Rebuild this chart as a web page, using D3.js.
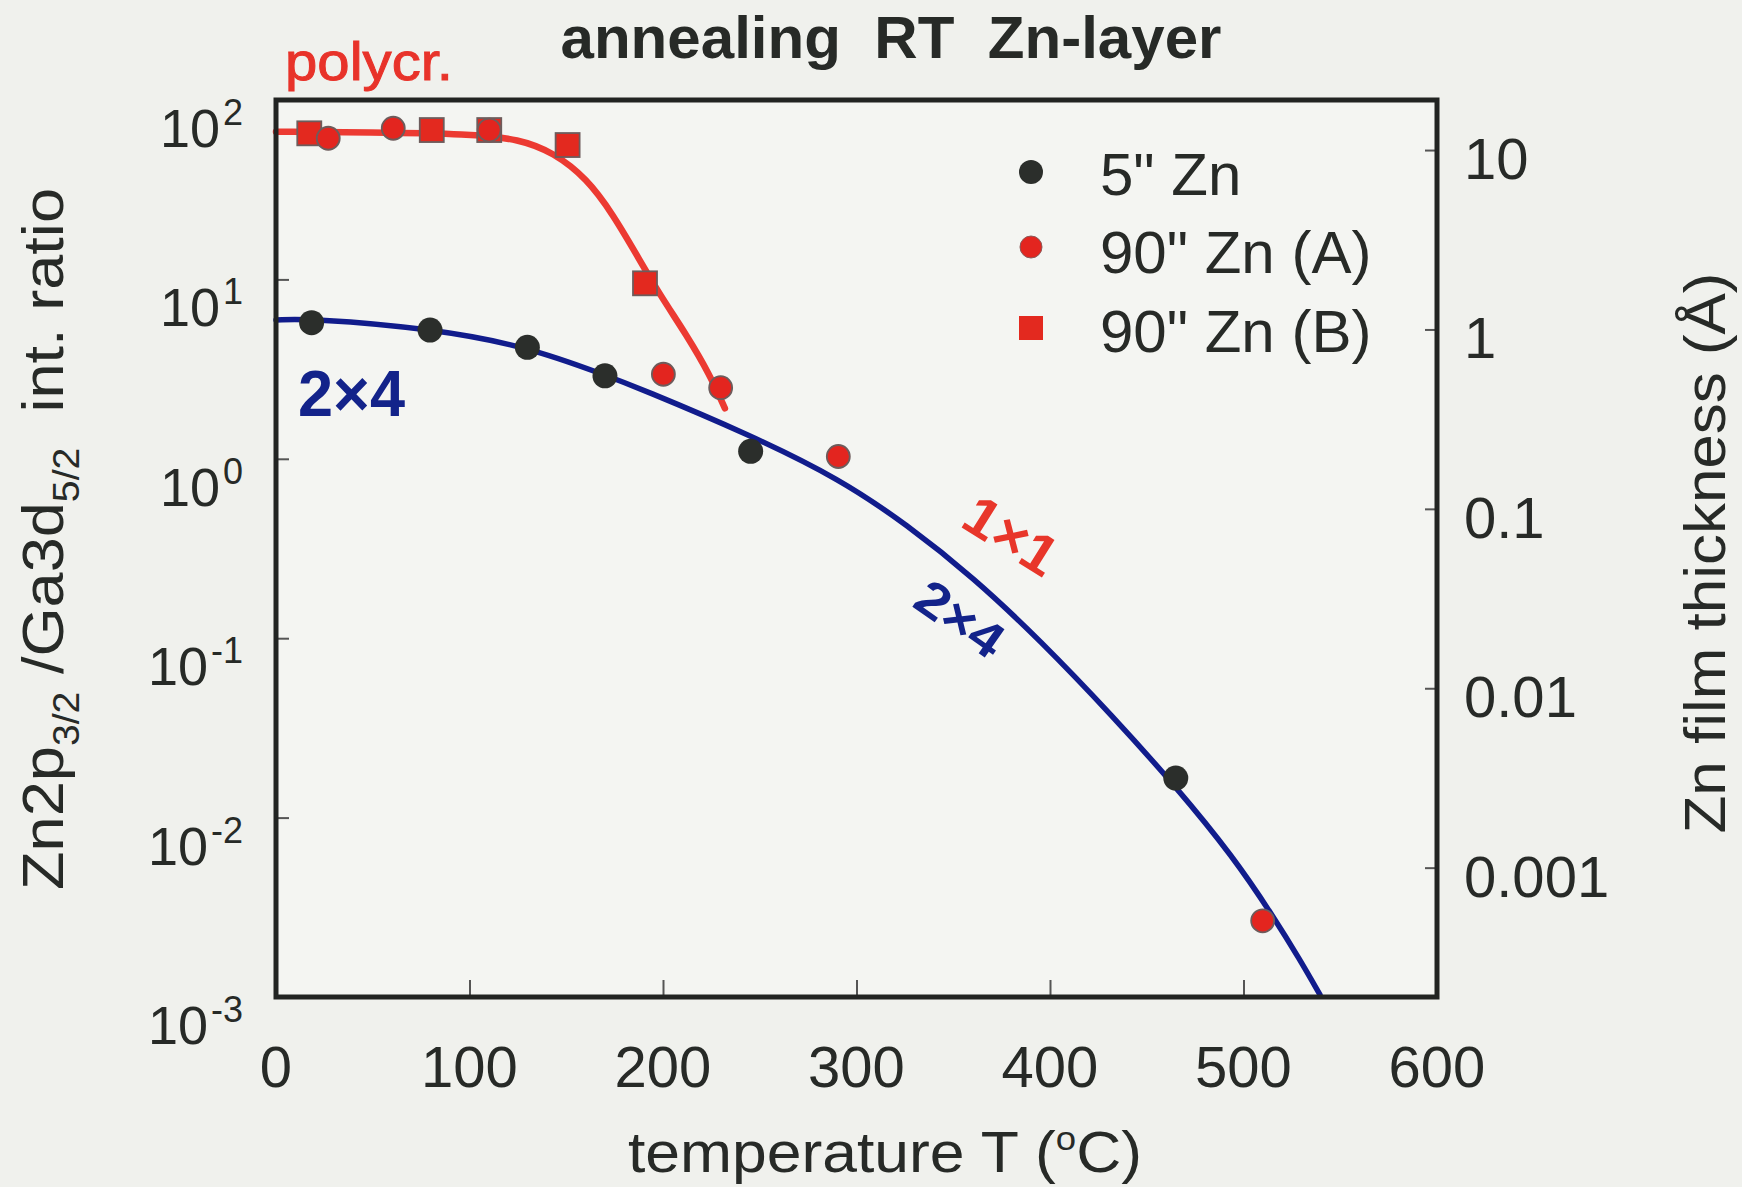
<!DOCTYPE html>
<html><head><meta charset="utf-8">
<script src="https://cdn.jsdelivr.net/npm/d3@7"></script>
<style>
html,body{margin:0;padding:0;background:#f0f1ed;}
svg{display:block;}
text{font-family:"Liberation Sans",Arial,sans-serif;fill:#272a27;}
</style></head><body><svg id="c" width="1742" height="1187"></svg>
<script>
// ---- data ----
const xTicks = [0, 100, 200, 300, 400, 500, 600];
const yTickExps = [2, 1, 0, -1, -2, -3];
const rightTicks = [10, 1, 0.1, 0.01, 0.001];
const rightTickLabels = ["10", "1", "0.1", "0.01", "0.001"];
const thicknessFactor = 5.26; // ratio / thickness(Å)

const zn5T  = [18.4, 79.6, 129.9, 170.0, 245.3, 465.0];
const zn5V  = [5.74, 5.22, 4.18, 2.90, 1.10, 0.0166];
const zn90aT = [27.0, 60.6, 110.2, 200.2, 229.8, 290.6, 509.9];
const zn90aV = [61.2, 69.6, 68.0, 2.96, 2.49, 1.03, 0.00266];
const zn90bT = [17.2, 80.5, 110.2, 150.7, 190.7];
const zn90bV = [65.2, 68.0, 68.0, 56.1, 9.51];
const redFitT = [0, 48.6, 100, 126, 143.3, 160.6, 174.3, 186.4, 198.4, 212.2, 224.3, 232];
const redFitV = [66.6, 66.0, 64.8, 60.5, 51.0, 36.6, 22.9, 13.7, 8.2, 4.9, 2.93, 1.91];
const blueFitT = [0, 18.4, 79.6, 130, 170, 188, 245, 291.5, 326, 360.4, 394.8, 432.7, 465, 494.7, 515.4, 529.2, 539.5];
const blueFitV = [5.94, 6.05, 5.33, 4.22, 2.93, 2.47, 1.36, 0.77, 0.430, 0.218, 0.0977, 0.0365, 0.0149, 0.00605, 0.00281, 0.00161, 0.00103];
const legendLabels = ["5\" Zn", "90\" Zn (A)", "90\" Zn (B)"];

// ---- layout ----
const L = 276, R = 1437, T = 100, B = 997;
const svg = d3.select("#c");
const x = d3.scaleLinear().domain([0, 600]).range([L, R]);
const y = d3.scaleLog().domain([1e-3, 1e2]).range([B, T]);
const yR = d3.scaleLog().domain([1e-3 / thicknessFactor, 1e2 / thicknessFactor]).range([B, T]);

svg.append("rect").attr("x", L).attr("y", T).attr("width", R - L).attr("height", B - T).attr("fill", "#f4f5f2");

// ticks (inward)
const tickStyle = g => { g.select(".domain").remove(); g.selectAll("line").attr("stroke", "#555").attr("stroke-width", 2); g.selectAll("text").remove(); };
svg.append("g").attr("transform", `translate(0,${B})`)
  .call(d3.axisBottom(x).tickValues(xTicks.slice(1, -1)).tickSize(-17)).call(tickStyle);
svg.append("g").attr("transform", `translate(${L},0)`)
  .call(d3.axisLeft(y).tickValues(yTickExps.slice(1, -1).map(e => Math.pow(10, e))).tickSize(-13)).call(tickStyle);
svg.append("g").attr("transform", `translate(${R},0)`)
  .call(d3.axisRight(yR).tickValues(rightTicks).tickSize(-12)).call(tickStyle);

// curves
const lineGen = d3.line().x(d => x(d[0])).y(d => y(d[1])).curve(d3.curveBasis);
svg.append("path").datum(blueFitT.map((t, i) => [t, blueFitV[i]]))
  .attr("d", lineGen).attr("fill", "none").attr("stroke", "#111c8c").attr("stroke-width", 5.5).attr("stroke-linecap", "round");
svg.append("path").datum(redFitT.map((t, i) => [t, redFitV[i]]))
  .attr("d", lineGen).attr("fill", "none").attr("stroke", "#ec3a32").attr("stroke-width", 6.5).attr("stroke-linecap", "round");

// markers
svg.append("g").selectAll("rect").data(zn90bT.map((t, i) => [t, zn90bV[i]])).join("rect")
  .attr("x", d => x(d[0]) - 12).attr("y", d => y(d[1]) - 12).attr("width", 24).attr("height", 24)
  .attr("fill", "#e3291f").attr("stroke", "#6d5c5c").attr("stroke-width", 1.8);
svg.append("g").selectAll("circle").data(zn90aT.map((t, i) => [t, zn90aV[i]])).join("circle")
  .attr("cx", d => x(d[0])).attr("cy", d => y(d[1])).attr("r", 11.5)
  .attr("fill", "#e3251f").attr("stroke", "#6d5c5c").attr("stroke-width", 1.8);
svg.append("g").selectAll("circle").data(zn5T.map((t, i) => [t, zn5V[i]])).join("circle")
  .attr("cx", d => x(d[0])).attr("cy", d => y(d[1])).attr("r", 12.5).attr("fill", "#2b2e2b");

// frame
svg.append("rect").attr("x", L).attr("y", T).attr("width", R - L).attr("height", B - T)
  .attr("fill", "none").attr("stroke", "#222422").attr("stroke-width", 5);

// x tick labels
svg.append("g").selectAll("text").data(xTicks).join("text")
  .attr("x", d => x(d)).attr("y", 1087).attr("text-anchor", "middle").attr("font-size", 58).text(d => d);

// left tick labels
const lt = svg.append("g").selectAll("text").data(yTickExps).join("text")
  .attr("x", 243).attr("y", d => y(Math.pow(10, d)) + 47).attr("text-anchor", "end").attr("font-size", 54);
lt.append("tspan").text("10");
lt.append("tspan").attr("font-size", 36).attr("dy", -22).attr("dx", 3).text(d => d < 0 ? "-" + (-d) : d);

// right tick labels
svg.append("g").selectAll("text").data(rightTicks).join("text")
  .attr("x", 1464).attr("y", d => yR(d) + 29).attr("font-size", 58).text((d, i) => rightTickLabels[i]);

// titles
svg.append("text").attr("x", 891).attr("y", 58).attr("text-anchor", "middle").attr("font-size", 60)
  .attr("font-weight", "bold").attr("textLength", 661).attr("lengthAdjust", "spacingAndGlyphs")
  .attr("xml:space", "preserve").text("annealing  RT  Zn-layer");
const xl = svg.append("text").attr("x", 885).attr("y", 1172).attr("text-anchor", "middle").attr("font-size", 58)
  .attr("textLength", 514).attr("lengthAdjust", "spacingAndGlyphs");
xl.append("tspan").text("temperature T (");
xl.append("tspan").attr("font-size", 34).attr("dy", -22).text("o");
xl.append("tspan").attr("dy", 22).text("C)");

svg.append("text").attr("transform", "translate(1725,553) rotate(-90)").attr("text-anchor", "middle")
  .attr("font-size", 58).attr("textLength", 561).attr("lengthAdjust", "spacingAndGlyphs").text("Zn film thickness (Å)");

const yl = svg.append("text").attr("transform", "translate(63,539) rotate(-90)").attr("text-anchor", "middle")
  .attr("font-size", 58).attr("textLength", 702).attr("lengthAdjust", "spacingAndGlyphs").attr("xml:space", "preserve");
yl.append("tspan").text("Zn2p");
yl.append("tspan").attr("font-size", 36).attr("dy", 16).text("3/2");
yl.append("tspan").attr("dy", -16).text(" /Ga3d");
yl.append("tspan").attr("font-size", 36).attr("dy", 16).text("5/2");
yl.append("tspan").attr("dy", -16).text("  int. ratio");

// legend
const lg = svg.append("g");
const legY = [172, 247, 328];
lg.append("circle").attr("cx", 1031).attr("cy", legY[0]).attr("r", 12).attr("fill", "#2b2e2b");
lg.append("circle").attr("cx", 1031).attr("cy", legY[1]).attr("r", 11).attr("fill", "#e3251f").attr("stroke", "#8a5a5a").attr("stroke-width", 1);
lg.append("rect").attr("x", 1019).attr("y", legY[2] - 12).attr("width", 24).attr("height", 24).attr("fill", "#e3291f");
lg.selectAll("text").data(legendLabels).join("text")
  .attr("x", 1100).attr("y", (d, i) => [195, 273, 352][i]).attr("font-size", 60).text(d => d);

// handwritten annotations
svg.append("text").attr("x", 285).attr("y", 80).attr("font-size", 54).attr("font-family", "DejaVu Sans")
  .attr("textLength", 168).attr("lengthAdjust", "spacingAndGlyphs")
  .style("fill", "#e8332a").attr("stroke", "#e8332a").attr("stroke-width", 1).text("polycr.");
svg.append("text").attr("x", 298).attr("y", 416).attr("font-size", 64).attr("font-weight", "bold")
  .attr("font-family", "DejaVu Sans").attr("textLength", 107).attr("lengthAdjust", "spacingAndGlyphs")
  .style("fill", "#13238a").text("2×4");
svg.append("text").attr("transform", "translate(1001,552) rotate(32)").attr("text-anchor", "middle")
  .attr("font-size", 56).attr("font-weight", "bold").attr("font-family", "DejaVu Sans")
  .attr("textLength", 100).attr("lengthAdjust", "spacingAndGlyphs").style("fill", "#e8362a").text("1×1");
svg.append("text").attr("transform", "translate(950,633) rotate(35)").attr("text-anchor", "middle")
  .attr("font-size", 50).attr("font-weight", "bold").attr("font-family", "DejaVu Sans")
  .attr("textLength", 96).attr("lengthAdjust", "spacingAndGlyphs").style("fill", "#13238a").text("2×4");
</script></body></html>
